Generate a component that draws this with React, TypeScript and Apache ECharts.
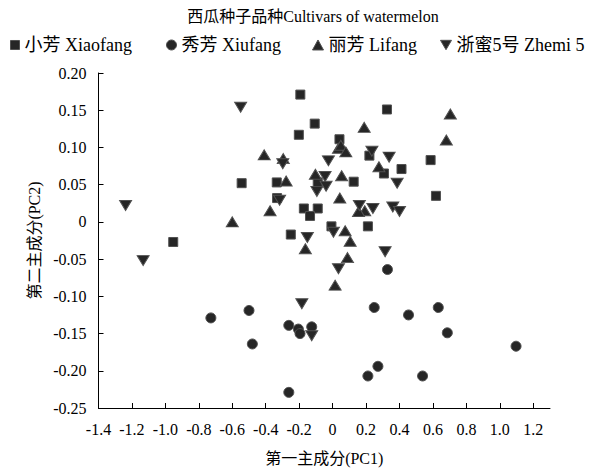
import React, { useEffect, useRef } from "react";
import * as echarts from "echarts";

const seriesNames = ["小芳 Xiaofang", "秀芳 Xiufang", "丽芳 Lifang", "浙蜜5号 Zhemi 5"];

const xiaofang: number[][] = [
  [-0.193, 0.171], [-0.107, 0.132], [-0.202, 0.117], [0.041, 0.111], [0.325, 0.151],
  [-0.544, 0.052], [-0.334, 0.053], [-0.089, 0.053], [-0.332, 0.032], [-0.172, 0.018],
  [-0.089, 0.018], [-0.135, 0.008], [-0.007, -0.006], [-0.25, -0.017], [-0.953, -0.027],
  [0.22, 0.089], [0.586, 0.083], [0.412, 0.071], [0.307, 0.065], [0.126, 0.054],
  [0.618, 0.035], [0.211, -0.006],
];

const xiufang: number[][] = [
  [-0.728, -0.129], [-0.5, -0.119], [-0.48, -0.164], [-0.262, -0.139], [-0.205, -0.144],
  [-0.195, -0.15], [-0.125, -0.141], [-0.262, -0.229], [0.328, -0.064], [0.249, -0.115],
  [0.454, -0.125], [0.632, -0.115], [0.686, -0.149], [1.097, -0.167], [0.271, -0.194],
  [0.211, -0.207], [0.538, -0.207],
];

const lifang: number[][] = [
  [-0.409, 0.09], [-0.295, 0.085], [-0.278, 0.055], [-0.103, 0.064], [-0.374, 0.015],
  [-0.6, 0.0], [0.035, 0.099], [0.189, 0.127], [0.704, 0.145], [0.68, 0.11],
  [0.049, 0.103], [0.079, 0.094], [0.277, 0.074], [0.054, 0.062], [0.043, 0.032],
  [0.192, 0.015], [0.155, 0.014], [0.075, -0.012], [0.105, -0.026], [0.089, -0.048],
  [0.015, -0.085], [-0.163, -0.036],
];

const zhemi5: number[][] = [
  [-0.55, 0.154], [-1.238, 0.022], [-1.133, -0.052], [-0.298, 0.078], [-0.025, 0.082],
  [-0.045, 0.061], [-0.039, 0.048], [-0.094, 0.041], [-0.317, 0.029], [-0.151, -0.021],
  [0.005, -0.014], [0.235, 0.095], [0.338, 0.087], [0.386, 0.052], [0.16, 0.022],
  [0.241, 0.018], [0.36, 0.02], [0.4, 0.014], [0.314, -0.04], [0.035, -0.063],
  [-0.184, -0.11], [-0.125, -0.153],
];

const titleText = "西瓜种子品种Cultivars of watermelon";
const xName = "第一主成分(PC1)";
const yName = "第二主成分(PC2)";

const FONT = "'Liberation Serif', 'Times New Roman', 'Noto Sans CJK SC', serif";
const DOWN = "path://M0,0L2,0L1,1.7Z";
const FILL = "#262626";
const EDGE = "#505050";

export default function App() {
  const ref = useRef<HTMLDivElement>(null);
  useEffect(() => {
    if (!ref.current) return;
    const chart = echarts.init(ref.current, null, { renderer: "svg" });
    const itemStyle = { color: FILL, borderColor: EDGE, borderWidth: 1, opacity: 1 };
    const mkLegend = (name: string, left: number, icon: string, w: number, h: number) => ({
      data: [{ name, icon, itemStyle }],
      left,
      top: 36,
      padding: 0,
      itemWidth: w,
      itemHeight: h,
      textStyle: { fontFamily: FONT, fontSize: 18, color: "#000" },
    });
    chart.setOption({
      animation: false,
      title: {
        text: titleText,
        left: 308,
        textAlign: "center",
        top: 3,
        textStyle: { fontFamily: FONT, fontSize: 16, fontWeight: "normal", color: "#000" },
      },
      legend: [
        mkLegend(seriesNames[0], 10, "rect", 9, 9),
        mkLegend(seriesNames[1], 166, "circle", 10, 10),
        mkLegend(seriesNames[2], 312, "triangle", 11, 10),
        mkLegend(seriesNames[3], 440, DOWN, 11, 10),
      ],
      grid: { left: 98.5, right: 40, top: 73, bottom: 64 },
      xAxis: {
        type: "value",
        min: -1.4,
        max: 1.3,
        interval: 0.2,
        name: xName,
        nameLocation: "middle",
        nameGap: 42,
        nameTextStyle: { fontFamily: FONT, fontSize: 16, color: "#000" },
        axisLine: { show: true, onZero: false, lineStyle: { color: "#000", width: 1 } },
        axisTick: { show: true, inside: true, length: 5, lineStyle: { color: "#000" } },
        splitLine: { show: false },
        axisLabel: {
          fontFamily: FONT,
          fontSize: 16,
          color: "#000",
          margin: 13,
          showMaxLabel: false,
          formatter: (v: number) => (Math.abs(v) < 1e-9 ? "0" : v.toFixed(1)),
        },
      },
      yAxis: {
        type: "value",
        min: -0.25,
        max: 0.2,
        interval: 0.05,
        name: yName,
        nameLocation: "middle",
        nameGap: 52,
        nameTextStyle: { fontFamily: FONT, fontSize: 16, color: "#000" },
        axisLine: { show: true, onZero: false, lineStyle: { color: "#000", width: 1 } },
        axisTick: { show: true, inside: true, length: 5, lineStyle: { color: "#000" } },
        splitLine: { show: false },
        axisLabel: {
          fontFamily: FONT,
          fontSize: 16,
          color: "#000",
          margin: 12,
          formatter: (v: number) => (Math.abs(v) < 1e-9 ? "0" : v.toFixed(2)),
        },
      },
      series: [
        { name: seriesNames[0], type: "scatter", data: xiaofang, symbol: "rect", symbolSize: 9, itemStyle },
        { name: seriesNames[1], type: "scatter", data: xiufang, symbol: "circle", symbolSize: 10, itemStyle },
        { name: seriesNames[2], type: "scatter", data: lifang, symbol: "triangle", symbolSize: [12, 10], itemStyle },
        { name: seriesNames[3], type: "scatter", data: zhemi5, symbol: DOWN, symbolSize: [12, 10], itemStyle },
      ],
    });
    return () => chart.dispose();
  }, []);
  return <div ref={ref} style={{ position: "absolute", left: 0, top: 0, width: 590, height: 472 }} />;
}
